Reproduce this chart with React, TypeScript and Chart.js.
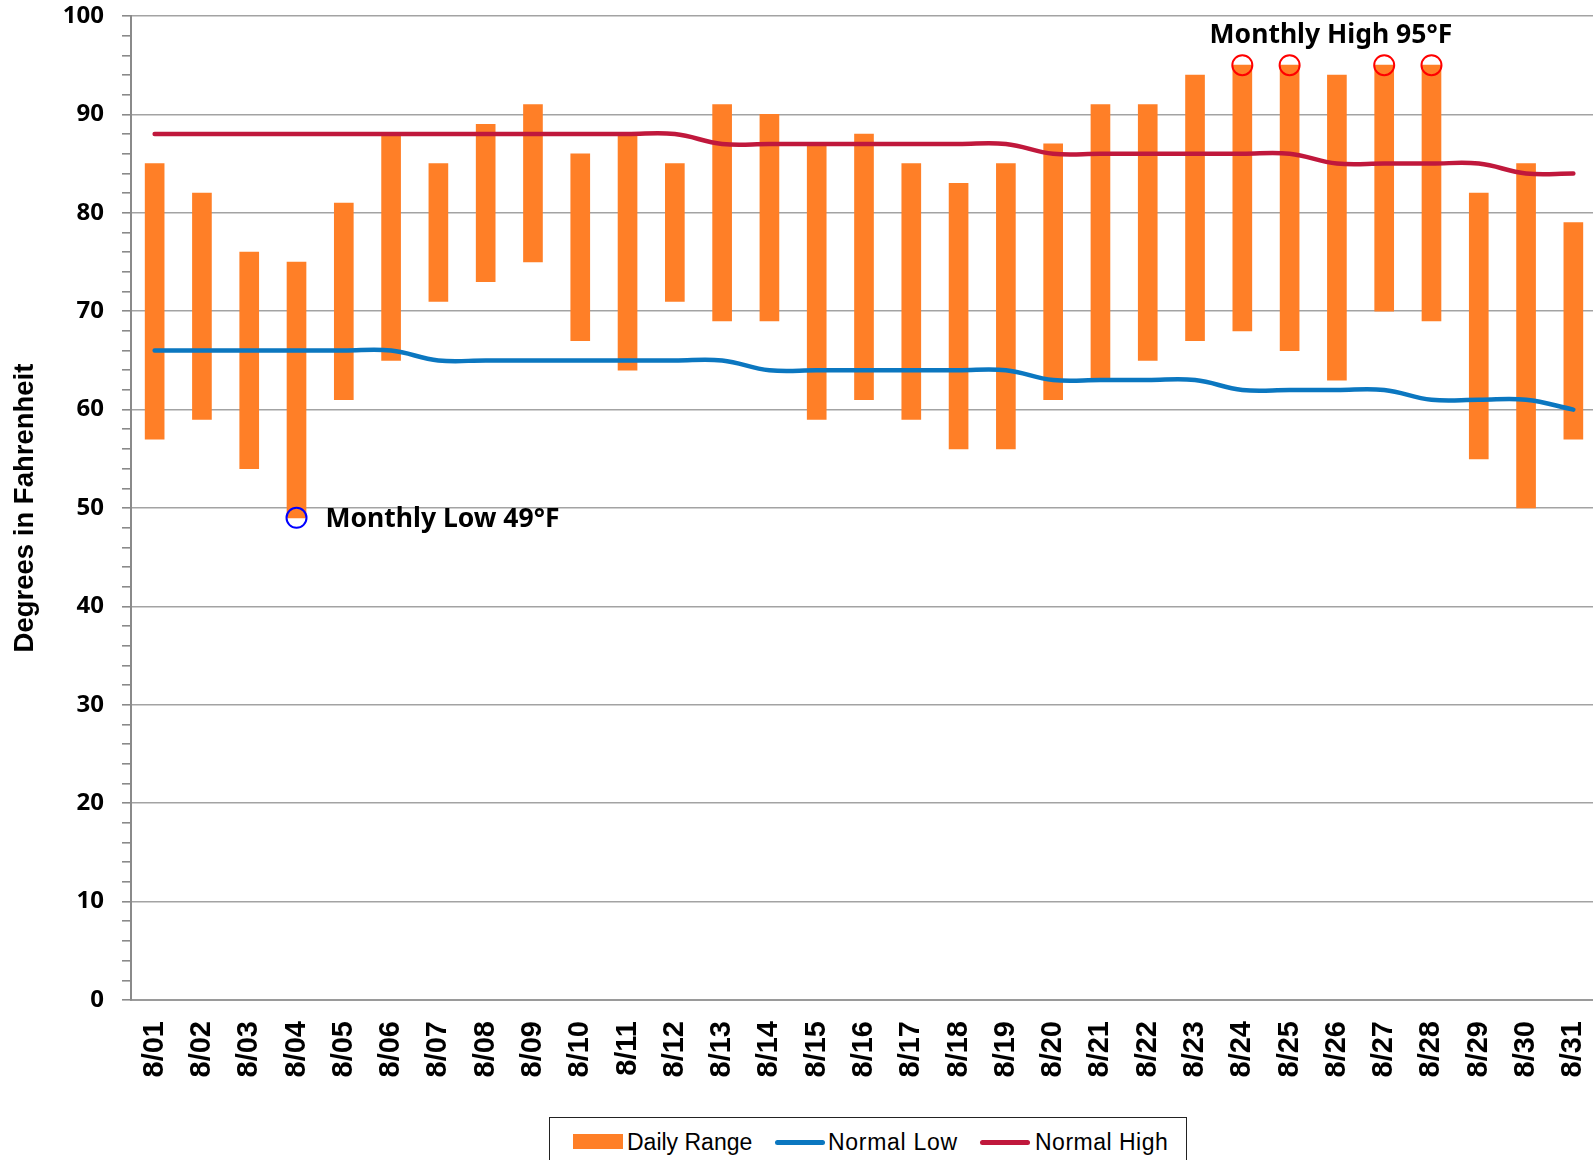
import React, { useEffect, useRef } from 'react';
import { Chart, registerables } from 'chart.js';

Chart.register(...registerables);

// ---- Data ----
const days = [
  '8/01', '8/02', '8/03', '8/04', '8/05', '8/06', '8/07', '8/08', '8/09', '8/10',
  '8/11', '8/12', '8/13', '8/14', '8/15', '8/16', '8/17', '8/18', '8/19', '8/20',
  '8/21', '8/22', '8/23', '8/24', '8/25', '8/26', '8/27', '8/28', '8/29', '8/30', '8/31',
];
const dailyLow = [57, 59, 54, 49, 61, 65, 71, 73, 75, 67, 64, 71, 69, 69, 59, 61, 59, 56, 56, 61, 63, 65, 67, 68, 66, 63, 70, 69, 55, 50, 57];
const dailyHigh = [85, 82, 76, 75, 81, 88, 85, 89, 91, 86, 88, 85, 91, 90, 87, 88, 85, 83, 85, 87, 91, 91, 94, 95, 95, 94, 95, 95, 82, 85, 79];
const normalLow = [66, 66, 66, 66, 66, 66, 65, 65, 65, 65, 65, 65, 65, 64, 64, 64, 64, 64, 64, 63, 63, 63, 63, 62, 62, 62, 62, 61, 61, 61, 60];
const normalHigh = [88, 88, 88, 88, 88, 88, 88, 88, 88, 88, 88, 88, 87, 87, 87, 87, 87, 87, 87, 86, 86, 86, 86, 86, 86, 85, 85, 85, 85, 84, 84];

const monthlyLowDays = ['8/04'];
const monthlyLowValue = 49;
const monthlyHighDays = ['8/24', '8/25', '8/27', '8/28'];
const monthlyHighValue = 95;

const yTicksMajor = [0, 10, 20, 30, 40, 50, 60, 70, 80, 90, 100];

const seriesNames = ['Daily Range', 'Normal Low', 'Normal High'];

const ORANGE = '#FF7F27';
const BLUE = '#0B77C0';
const RED = '#C0183C';

const annotationPlugin = {
  id: 'monthlyLabels',
  afterDatasetsDraw(chart: any) {
    const { ctx, scales } = chart;
    const xs = scales.x;
    const ys = scales.y;
    ctx.save();
    ctx.fillStyle = '#000';
    ctx.font = 'bold 26.5px "Noto Sans"';
    ctx.textBaseline = 'alphabetic';
    // Low label
    const lx = xs.getPixelForValue(days.indexOf(monthlyLowDays[0]));
    const ly = ys.getPixelForValue(monthlyLowValue);
    ctx.textAlign = 'left';
    ctx.fillText(`Monthly Low ${monthlyLowValue}°F`, lx + 29, ly + 9);
    // High label
    const hxs = monthlyHighDays.map((d) => xs.getPixelForValue(days.indexOf(d)));
    const hx = (Math.min(...hxs) + Math.max(...hxs)) / 2;
    const hy = ys.getPixelForValue(monthlyHighValue);
    ctx.textAlign = 'center';
    ctx.fillText(`Monthly High ${monthlyHighValue}°F`, hx - 6, hy - 22);
    ctx.restore();
  },
};

function ChartCanvas() {
  const ref = useRef<HTMLCanvasElement | null>(null);
  useEffect(() => {
    if (!ref.current) return;
    const chart = new Chart(ref.current, {
      data: {
        labels: days,
        datasets: [
          {
            type: 'line',
            label: 'Monthly Low',
            data: monthlyLowDays.map((d) => ({ x: d, y: monthlyLowValue })),
            showLine: false,
            pointStyle: 'circle',
            pointRadius: 10,
            pointBorderWidth: 2,
            pointBorderColor: '#0000FF',
            pointBackgroundColor: 'rgba(0,0,0,0)',
            order: 0,
          } as any,
          {
            type: 'line',
            label: 'Monthly High',
            data: monthlyHighDays.map((d) => ({ x: d, y: monthlyHighValue })),
            showLine: false,
            pointStyle: 'circle',
            pointRadius: 10,
            pointBorderWidth: 2,
            pointBorderColor: '#FF0000',
            pointBackgroundColor: 'rgba(0,0,0,0)',
            order: 0,
          } as any,
          {
            type: 'line',
            label: seriesNames[2],
            data: normalHigh,
            borderColor: RED,
            borderWidth: 4.5,
            borderCapStyle: 'round',
            pointRadius: 0,
            tension: 0.4,
            order: 1,
          } as any,
          {
            type: 'line',
            label: seriesNames[1],
            data: normalLow,
            borderColor: BLUE,
            borderWidth: 4.5,
            borderCapStyle: 'round',
            pointRadius: 0,
            tension: 0.4,
            order: 2,
          } as any,
          {
            type: 'bar',
            label: seriesNames[0],
            data: days.map((_, i) => [dailyLow[i], dailyHigh[i]]),
            backgroundColor: ORANGE,
            borderWidth: 0,
            barThickness: 19,
            order: 3,
          } as any,
        ],
      },
      options: {
        animation: false,
        responsive: false,
        devicePixelRatio: 1,
        layout: { padding: { top: 16, left: 0, right: 0, bottom: 0 } },
        plugins: {
          legend: { display: false },
          tooltip: { enabled: false },
        },
        scales: {
          x: {
            type: 'category',
            offset: true,
            grid: { display: false, drawTicks: false },
            border: { display: true, color: '#9A9A9A', width: 2 },
            ticks: {
              autoSkip: false,
              maxRotation: 90,
              minRotation: 90,
              padding: 21,
              color: '#000',
              font: { family: 'Liberation Sans', weight: 'bold', size: 29 },
            },
            afterFit: (s: any) => {
              s.height = 160;
              s.paddingLeft = 0;
              s.paddingRight = 0;
            },
          },
          y: {
            min: 0,
            max: 100,
            ticks: {
              stepSize: 2,
              autoSkip: false,
              padding: 18,
              color: '#000',
              font: { family: 'Noto Sans', weight: 'bold', size: 24 },
              callback: (v: any) => (yTicksMajor.includes(Number(v)) ? String(v) : ''),
            },
            grid: {
              color: (c: any) => (c.tick && yTicksMajor.includes(c.tick.value) ? '#A3A3A3' : 'rgba(0,0,0,0)'),
              lineWidth: 1.6,
              drawTicks: true,
              tickLength: 9,
              tickColor: '#8A8A8A',
              tickWidth: 1.6,
            },
            border: { display: true, color: '#8A8A8A', width: 2 },
            title: {
              display: true,
              text: 'Degrees in Fahrenheit',
              color: '#000',
              font: { family: 'Liberation Sans', weight: 'bold', size: 27.5 },
              padding: { top: 9, bottom: 0 },
            },
            afterFit: (s: any) => {
              s.width = 131;
              s.paddingTop = 0;
              s.paddingBottom = 0;
            },
          },
        },
      } as any,
      plugins: [annotationPlugin],
    } as any);
    return () => chart.destroy();
  }, []);
  return <canvas ref={ref} width={1609} height={1160} style={{ display: 'block', width: 1609, height: 1160 }} />;
}

function Legend() {
  const textStyle: React.CSSProperties = {
    position: 'absolute',
    top: 0,
    height: 30,
    lineHeight: '30px',
    fontFamily: 'Liberation Sans',
    fontSize: 23,
    color: '#000',
    whiteSpace: 'nowrap',
  };
  const baseLeft = 551;
  const rowTop = 1126;
  return (
    <div
      style={{
        position: 'absolute',
        left: 549,
        top: 1117,
        width: 636,
        height: 70,
        border: '1.5px solid #222',
        background: '#fff',
      }}
    >
      <div style={{ position: 'absolute', left: 0, top: rowTop - 1117, width: 636, height: 30 }}>
        <div style={{ position: 'absolute', left: 574 - baseLeft, top: 7, width: 50, height: 15, background: ORANGE }} />
        <div style={{ ...textStyle, left: 628 - baseLeft }}>{seriesNames[0]}</div>
        <div style={{ position: 'absolute', left: 776 - baseLeft, top: 13, width: 50, height: 4.5, borderRadius: 3, background: BLUE }} />
        <div style={{ ...textStyle, left: 829 - baseLeft, letterSpacing: 0.7 }}>{seriesNames[1]}</div>
        <div style={{ position: 'absolute', left: 981 - baseLeft, top: 13, width: 50, height: 4.5, borderRadius: 3, background: RED }} />
        <div style={{ ...textStyle, left: 1036 - baseLeft, letterSpacing: 0.5 }}>{seriesNames[2]}</div>
      </div>
    </div>
  );
}

export default function App() {
  return (
    <div
      style={{
        position: 'absolute',
        left: 0,
        top: 0,
        width: 1593,
        height: 1160,
        overflow: 'hidden',
        background: '#fff',
      }}
    >
      <ChartCanvas />
      <Legend />
    </div>
  );
}
